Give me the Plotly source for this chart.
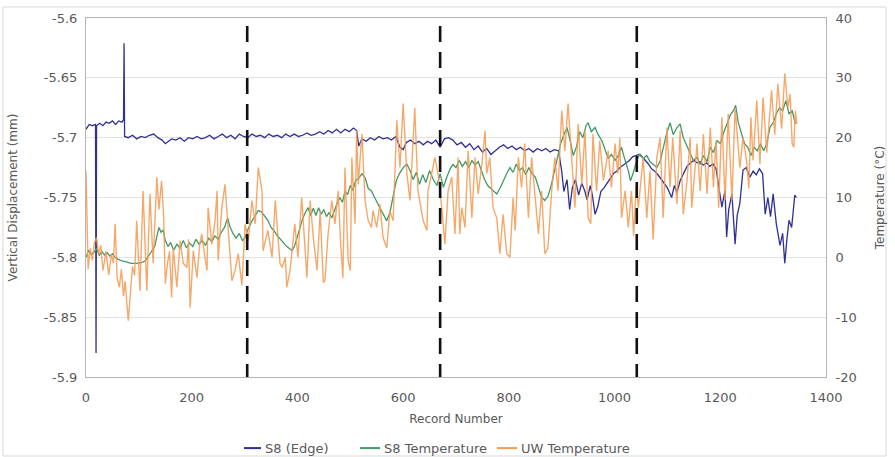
import plotly.graph_objects as go

# ---- S8 (Edge) vertical displacement (mm), primary axis ----
edge_rec = [0, 6, 12, 18, 19, 20, 26, 32, 38, 44, 50, 56, 62, 68, 71, 72, 73, 80, 88, 96,
            104, 112, 120, 128, 136, 144, 150, 156, 162, 170, 178, 186, 194, 202, 210, 218,
            226, 234, 242, 250, 258, 266, 274, 282, 290, 298, 306, 314, 322, 330, 338, 346,
            354, 362, 370, 378, 386, 394, 402, 410, 418, 426, 434, 442, 450, 458, 466, 474,
            482, 490, 498, 506, 512, 516, 522, 530, 538, 546, 554, 562, 570, 578, 586, 594,
            600, 606, 614, 622, 630, 638, 646, 654, 662, 670, 678, 686, 694, 702, 710, 718,
            726, 734, 742, 750, 758, 766, 774, 782, 790, 798, 806, 814, 822, 830, 838, 846,
            854, 862, 870, 878, 886, 894, 900, 904, 910, 915, 920, 926, 932, 938, 944, 948,
            954, 958, 963, 968, 974, 980, 986, 992, 998, 1004, 1010, 1016, 1022, 1028, 1034,
            1040, 1046, 1052, 1058, 1064, 1070, 1076, 1082, 1088, 1094, 1100, 1104, 1108,
            1113, 1118, 1124, 1130, 1137, 1144, 1150, 1156, 1162, 1168, 1174, 1180, 1186,
            1192, 1198, 1203, 1209, 1212, 1216, 1222, 1228, 1232, 1237, 1243, 1249, 1256,
            1262, 1268, 1274, 1280, 1285, 1290, 1295, 1300, 1306, 1313, 1318, 1322, 1326,
            1330, 1335, 1341, 1344]
edge_disp = [-5.693, -5.689, -5.690, -5.689, -5.880, -5.690, -5.688, -5.690, -5.687, -5.688,
             -5.686, -5.689, -5.686, -5.687, -5.685, -5.621, -5.699, -5.700, -5.698, -5.701,
             -5.699, -5.700, -5.698, -5.697, -5.700, -5.702, -5.705, -5.703, -5.701, -5.702,
             -5.700, -5.703, -5.700, -5.701, -5.699, -5.701, -5.700, -5.698, -5.701, -5.699,
             -5.697, -5.700, -5.698, -5.701, -5.697, -5.699, -5.700, -5.697, -5.699, -5.698,
             -5.700, -5.697, -5.699, -5.698, -5.700, -5.697, -5.699, -5.697, -5.699, -5.698,
             -5.696, -5.698, -5.697, -5.695, -5.697, -5.694, -5.696, -5.693, -5.696, -5.693,
             -5.695, -5.692, -5.694, -5.707, -5.701, -5.703, -5.700, -5.702, -5.699, -5.701,
             -5.700, -5.702, -5.699, -5.708, -5.710, -5.704, -5.702, -5.705, -5.703, -5.706,
             -5.703, -5.705, -5.702, -5.708, -5.701, -5.700, -5.702, -5.706, -5.704, -5.708,
             -5.705, -5.710, -5.707, -5.712, -5.709, -5.714, -5.711, -5.708, -5.706, -5.709,
             -5.707, -5.710, -5.708, -5.711, -5.709, -5.712, -5.709, -5.711, -5.709, -5.712,
             -5.710, -5.711, -5.728, -5.745, -5.735, -5.760, -5.742, -5.735, -5.748, -5.738,
             -5.745, -5.752, -5.740, -5.748, -5.764, -5.758, -5.745, -5.742, -5.738, -5.734,
             -5.730, -5.728, -5.725, -5.723, -5.721, -5.719, -5.716, -5.715, -5.714, -5.716,
             -5.719, -5.722, -5.726, -5.728, -5.731, -5.735, -5.738, -5.742, -5.746, -5.750,
             -5.740, -5.746, -5.736, -5.730, -5.724, -5.721, -5.719, -5.721, -5.720, -5.723,
             -5.721, -5.724, -5.722, -5.726, -5.745, -5.758, -5.744, -5.783, -5.760, -5.747,
             -5.789, -5.765, -5.755, -5.727, -5.725, -5.733, -5.728, -5.731, -5.726, -5.730,
             -5.764, -5.750, -5.766, -5.747, -5.772, -5.790, -5.780, -5.805, -5.785, -5.769,
             -5.775, -5.748, -5.750]

# ---- S8 temperature (deg C), secondary axis ----
s8_rec = [0, 5, 10, 15, 20, 25, 30, 35, 40, 45, 50, 55, 60, 68, 75, 85, 95, 105, 112, 118,
          124, 130, 134, 138, 142, 146, 150, 155, 160, 166, 172, 178, 184, 190, 196, 202, 208,
          214, 220, 226, 232, 238, 244, 250, 256, 262, 268, 272, 278, 284, 290, 296, 301, 307,
          314, 320, 326, 332, 338, 344, 350, 356, 362, 368, 374, 380, 386, 390, 395, 400, 405,
          410, 415, 420, 425, 430, 435, 440, 445, 450, 455, 460, 465, 470, 475, 480, 485, 490,
          495, 500, 505, 510, 516, 522, 528, 534, 540, 546, 552, 558, 564, 569, 575, 581, 587,
          593, 600, 607, 613, 619, 625, 631, 637, 643, 650, 657, 664, 670, 676, 683, 689, 694,
          700, 706, 712, 718, 724, 730, 736, 742, 748, 754, 760, 766, 771, 777, 783, 790, 796,
          802, 808, 814, 820, 826, 832, 838, 844, 850, 856, 862, 868, 874, 880, 886, 892, 898,
          904, 910, 916, 922, 928, 934, 940, 946, 950, 956, 963, 969, 976, 982, 988, 994, 1001,
          1007, 1013, 1019, 1026, 1030, 1035, 1042, 1048, 1054, 1061, 1067, 1073, 1080, 1086,
          1092, 1098, 1105, 1111, 1118, 1124, 1130, 1137, 1143, 1149, 1156, 1162, 1168, 1175,
          1181, 1187, 1194, 1200, 1207, 1213, 1219, 1225, 1229, 1234, 1240, 1246, 1252, 1258,
          1264, 1270, 1276, 1282, 1288, 1294, 1300, 1306, 1312, 1318, 1324, 1330, 1336, 1342]
s8_temp = [0.0, 1.2, 0.5, 0.8, 1.5, 0.3, 1.0, 0.4, 0.8, 0.2, 0.6, 0.0, -0.3, -0.6, -0.7, -1.0,
           -1.0, -0.9, -0.6, 0.2, 1.0, 1.8, 3.5, 5.0, 4.2, 4.6, 2.8, 1.8, 2.5, 1.2, 2.2, 1.5,
           2.8, 1.6, 2.4, 1.8, 3.0, 2.2, 2.8, 2.0, 3.2, 2.6, 3.6, 3.0, 4.2, 5.0, 6.6, 5.2, 4.0,
           3.2, 4.0, 2.8, 3.3, 4.8, 6.1, 7.0, 7.8, 7.6, 6.8, 6.2, 5.0, 4.4, 3.6, 3.0, 2.4, 1.8,
           1.4, 1.1, 2.0, 3.5, 5.0, 6.5, 7.5, 8.3, 7.0, 8.2, 7.0, 8.3, 7.2, 8.0, 6.8, 7.5, 6.6,
           8.0, 9.0, 10.0, 9.2, 11.0, 10.5, 12.0, 11.2, 12.8, 13.2, 14.0, 13.3, 11.5, 11.1, 10.0,
           9.0, 8.0, 7.0, 6.1, 7.5, 10.5, 12.8, 14.0, 15.0, 15.6, 14.5, 13.0, 14.2, 12.2, 13.8,
           12.5, 14.5, 13.0, 12.0, 14.0, 11.7, 13.5, 14.8, 15.5, 15.0, 16.2, 15.2, 16.0, 15.0,
           16.2, 15.4, 16.0, 14.5, 13.0, 12.0, 11.5, 11.0, 10.6, 11.5, 13.0, 14.0, 15.0, 14.2,
           15.6, 14.5, 15.0, 13.8, 15.0, 14.0, 13.4, 11.5, 10.0, 9.5, 10.2, 12.0, 14.5, 17.0,
           19.0, 20.5, 21.7, 19.5, 17.0, 18.5, 21.0, 20.0, 22.0, 22.5, 21.0, 21.7, 20.5, 19.5,
           18.0, 16.5, 17.2, 16.2, 17.0, 18.4, 16.5, 14.5, 12.8, 14.0, 16.2, 17.3, 16.5, 17.0,
           16.0, 15.5, 15.0, 16.0, 18.5, 20.5, 22.5, 20.5, 21.7, 22.3, 20.0, 18.5, 17.5, 16.2,
           16.7, 15.5, 17.0, 16.0, 18.4, 17.5, 19.5, 19.0, 21.0, 22.5, 23.8, 24.5, 25.4, 22.5,
           20.6, 19.0, 18.4, 17.0, 18.4, 17.8, 19.0, 17.8, 19.0, 21.7, 22.5, 24.0, 25.0, 24.5,
           26.2, 24.0, 24.5, 22.3]

# ---- UW temperature (deg C), secondary axis ----
uw_rec = [0, 4, 8, 12, 16, 20, 24, 28, 32, 38, 43, 48, 52, 55, 59, 63, 67, 71, 74, 77, 80, 84,
          88, 92, 96, 102, 108, 115, 121, 127, 134, 138, 143, 147, 150, 154, 158, 162, 165, 172,
          178, 184, 191, 194, 197, 203, 210, 215, 219, 225, 229, 231, 238, 244, 248, 250, 257,
          263, 269, 276, 282, 288, 295, 301, 307, 314, 320, 326, 333, 335, 344, 352, 358, 364,
          367, 371, 377, 380, 386, 395, 401, 408, 414, 418, 424, 430, 437, 443, 449, 452, 458,
          465, 471, 477, 482, 486, 490, 496, 500, 503, 509, 512, 515, 522, 528, 534, 540, 543,
          550, 556, 562, 569, 575, 581, 588, 594, 600, 607, 613, 622, 628, 632, 638, 645, 647,
          654, 660, 666, 673, 679, 685, 692, 698, 704, 707, 711, 717, 723, 730, 736, 742, 749,
          755, 758, 764, 770, 777, 783, 789, 796, 802, 808, 812, 818, 824, 830, 837, 843, 850,
          856, 862, 868, 874, 881, 887, 893, 900, 906, 912, 919, 925, 931, 938, 944, 950, 955,
          959, 966, 972, 979, 988, 994, 1001, 1006, 1010, 1013, 1020, 1026, 1032, 1036, 1041,
          1045, 1054, 1061, 1067, 1073, 1080, 1086, 1092, 1099, 1105, 1110, 1118, 1124, 1130,
          1137, 1143, 1146, 1156, 1162, 1168, 1175, 1181, 1187, 1192, 1197, 1203, 1209, 1215,
          1222, 1228, 1237, 1243, 1250, 1254, 1258, 1262, 1269, 1275, 1281, 1288, 1297, 1303,
          1309, 1316, 1322, 1328, 1332, 1336, 1339, 1342, 1345]
uw_temp = [14.5, -2.0, 1.5, -0.5, 2.5, 3.3, 0.5, 2.0, -2.2, 1.0, -3.0, 0.5, -1.0, 5.6, -3.5,
           -5.0, -2.0, -6.5, -4.0, -8.0, -10.6, -6.0, -1.5, -3.0, 6.1, -5.6, 11.1, -5.6, 10.6,
           -1.0, 13.4, 8.0, 12.8, 6.6, -4.4, -1.1, 1.0, -6.7, 1.6, -5.0, 2.8, -1.0, -1.7, 3.0,
           -8.4, 1.1, -3.4, 2.0, 3.9, 0.0, -2.2, 8.3, 2.2, 6.0, 11.1, -0.5, 8.3, 12.2, 4.5,
           -3.9, -2.2, 0.6, -4.7, 5.6, 2.8, 9.5, 5.6, 15.0, 11.1, 1.1, 4.5, 0.0, 9.5, 2.2, -1.0,
           -1.7, 0.0, -5.0, -2.2, 5.6, 0.0, 10.0, 2.2, -3.4, 9.5, 3.3, -2.2, 7.8, -4.2, -3.9,
           3.9, 9.5, 5.6, 11.1, 2.0, -3.4, 15.0, -0.5, -2.2, 16.7, 5.6, 21.2, 12.2, 20.6, 9.5,
           6.1, 5.0, 7.8, 5.0, 8.9, 3.3, 1.6, 7.8, 6.1, 22.9, 15.0, 25.7, 14.0, 9.5, 25.0, 11.1,
           8.9, 6.1, 4.5, 11.1, 14.0, 16.7, 14.0, 8.3, 2.2, 11.1, 13.4, 3.9, 16.7, 3.9, 8.3,
           5.0, 17.8, 6.6, 16.7, 10.6, 15.6, 21.2, 14.0, 16.7, 8.3, 6.6, 0.6, 7.2, 0.6, 0.0,
           10.0, 4.5, 16.7, 11.7, 19.0, 6.6, 16.7, 9.5, 3.9, 11.1, 0.6, 1.6, 11.1, 16.7, 11.1,
           24.5, 17.8, 25.7, 16.7, 8.3, 22.3, 12.2, 21.2, 6.6, 5.6, 20.6, 11.1, 19.5, 12.8,
           17.8, 11.7, 19.0, 14.0, 20.0, 6.6, 11.1, 5.0, 11.1, 3.6, 12.0, 8.3, 16.7, 6.6, 14.5,
           3.0, 16.7, 20.0, 6.6, 21.7, 11.7, 20.0, 8.9, 21.2, 7.2, 12.8, 20.0, 8.3, 19.0, 11.1,
           20.6, 10.6, 21.7, 11.7, 19.5, 8.3, 23.4, 9.5, 24.0, 9.5, 25.0, 15.0, 20.0, 16.0,
           11.5, 23.4, 16.2, 26.2, 15.6, 26.7, 17.5, 27.9, 20.5, 29.0, 21.5, 30.7, 25.0, 27.3,
           19.0, 18.4, 24.5, 22.3]

# Records where the vertical dashed markers sit
event_records = [305, 670, 1042]

# Axis tick values and their labels
x_ticks = [0, 200, 400, 600, 800, 1000, 1200, 1400]
disp_ticks = [-5.9, -5.85, -5.8, -5.75, -5.7, -5.65, -5.6]
disp_labels = ["-5.9", "-5.85", "-5.8", "-5.75", "-5.7", "-5.65", "-5.6"]
temp_ticks = [-20, -10, 0, 10, 20, 30, 40]
temp_labels = ["-20", "-10", "0", "10", "20", "30", "40"]

FONT = "DejaVu Sans"
TICK_COLOR = "#595959"
FRAME = "#b4b4b4"

series = [
    dict(name="S8 (Edge)", x=edge_rec, y=edge_disp, axis="y", color="#2f2f96", width=1.3, alpha=1.0),
    dict(name="S8 Temperature", x=s8_rec, y=s8_temp, axis="y2", color="#3f9a68", width=1.3, alpha=1.0),
    dict(name="UW Temperature", x=uw_rec, y=uw_temp, axis="y2", color="#f59a52", width=1.4, alpha=0.85),
]

fig = go.Figure()
for s in series:
    fig.add_trace(go.Scatter(x=s["x"], y=s["y"], name=s["name"], mode="lines", yaxis=s["axis"],
                             line=dict(color=s["color"], width=s["width"]), opacity=s["alpha"],
                             showlegend=False))

shapes = []
for rec in event_records:
    shapes.append(dict(type="line", xref="x", yref="paper", x0=rec, x1=rec, y0=0.978, y1=0,
                       line=dict(color="#111111", width=2.6, dash="16px,10px")))
# light outer frame of the chart area
shapes.append(dict(type="rect", xref="paper", yref="paper", x0=-0.1122, x1=1.0811,
                   y0=-0.220, y1=1.0306, line=dict(color="#d9d9d9", width=1), layer="below"))

# key below the x-axis title: short line sample followed by the series name
annotations = []
key_y = -0.198
key_slots = [(0.2135, 0.2365), (0.3703, 0.3973), (0.5554, 0.5824)]
for s, (x0, x1) in zip(series, key_slots):
    shapes.append(dict(type="line", xref="paper", yref="paper", x0=x0, x1=x1, y0=key_y, y1=key_y,
                       line=dict(color=s["color"], width=2)))
    annotations.append(dict(xref="paper", yref="paper", x=x1 + 0.003, y=key_y, text=s["name"],
                            showarrow=False, xanchor="left", yanchor="middle",
                            font=dict(family=FONT, size=13, color=TICK_COLOR)))

fig.update_layout(
    width=895, height=457,
    margin=dict(l=86, r=69, t=18, b=80),
    paper_bgcolor="white", plot_bgcolor="white",
    font=dict(family=FONT, size=13, color=TICK_COLOR),
    shapes=shapes,
    annotations=annotations,
    showlegend=False,
    xaxis=dict(range=[0, 1400], tickvals=x_ticks, ticks="", showgrid=False,
               showline=True, linecolor=FRAME, linewidth=1, mirror=True, zeroline=False,
               ticklabelstandoff=8,
               tickfont=dict(size=13, color=TICK_COLOR),
               title=dict(text="Record Number", font=dict(size=12, color=TICK_COLOR), standoff=11)),
    yaxis=dict(range=[-5.9, -5.6], tickvals=disp_ticks, ticktext=disp_labels, ticks="",
               showgrid=True, gridcolor="#e3e3e3", gridwidth=1, zeroline=False,
               showline=True, linecolor=FRAME, linewidth=1, mirror=True,
               ticklabelstandoff=5,
               tickfont=dict(size=13, color=TICK_COLOR),
               title=dict(text="Vertical Displacement (mm)", font=dict(size=12, color=TICK_COLOR),
                          standoff=23)),
    yaxis2=dict(range=[-20, 40], tickvals=temp_ticks, ticktext=temp_labels, ticks="",
                overlaying="y", side="right", showgrid=False, zeroline=False,
                showline=True, linecolor=FRAME, linewidth=1,
                ticklabelstandoff=6,
                tickfont=dict(size=13, color=TICK_COLOR),
                title=dict(text="Temperature (°C)", font=dict(size=12, color=TICK_COLOR),
                           standoff=19)),
)

fig.write_html("out.html")
